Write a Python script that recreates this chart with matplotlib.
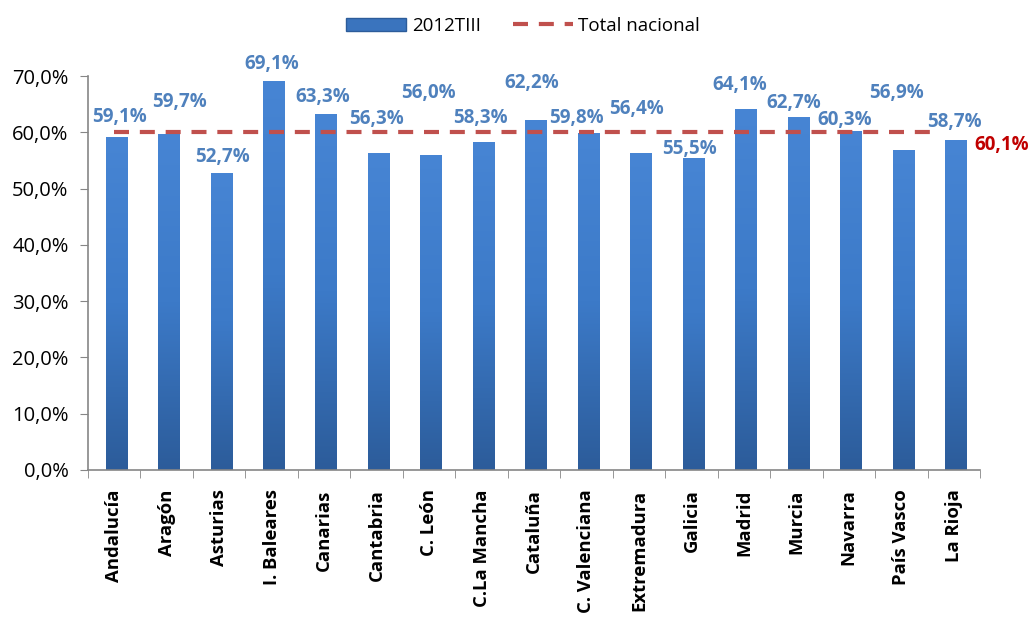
import numpy as np
import matplotlib.pyplot as plt
from matplotlib.lines import Line2D
from matplotlib.patches import Patch
from matplotlib.colors import LinearSegmentedColormap

plt.rcParams['font.family'] = ['Open Sans', 'DejaVu Sans']

regiones = ['Andalucía', 'Aragón', 'Asturias', 'I. Baleares', 'Canarias', 'Cantabria',
            'C. León', 'C.La Mancha', 'Cataluña', 'C. Valenciana', 'Extremadura',
            'Galicia', 'Madrid', 'Murcia', 'Navarra', 'País Vasco', 'La Rioja']
tasa = [59.1, 59.7, 52.7, 69.1, 63.3, 56.3, 56.0, 58.3, 62.2, 59.8, 56.4,
        55.5, 64.1, 62.7, 60.3, 56.9, 58.7]
total_nacional = 60.1

# where each value label sits, in pixels from the top of its bar
lab_dy = [20, 32, 16, 17, 17, 34, 62, 24, 37, 15, 44, 9, 24, 14, 11, 57, 18]
lab_dx = [5, 13, 3, 0, -1, 0, -1, -1, -2, -10, -2, -2, -4, -3, -4, -5, 1]

fig = plt.figure(figsize=(10.32, 6.17), dpi=100)
ax = fig.add_axes([0.0853, 0.2383, 0.8643, 0.6385])

x = np.arange(len(regiones))
bars = ax.bar(x + 0.04, tasa, width=0.41, color='#3A74BE', zorder=2)

# vertical gradient inside every bar
grad = np.linspace(0, 1, 256).reshape(-1, 1)
cmap = LinearSegmentedColormap.from_list('g', ['#2C5C9A', '#3C7AC8', '#4785D4'])
for b in bars:
    im = ax.imshow(grad, extent=[b.get_x(), b.get_x() + b.get_width(), 0, b.get_height()],
                   origin='lower', aspect='auto', cmap=cmap, zorder=2)
    im.set_clip_path(b)

ax.plot([0, len(regiones) - 1.3], [total_nacional] * 2, color='#C0504D', lw=3,
        dashes=(3.6, 2.6), zorder=3)

for i, v in enumerate(tasa):
    ax.annotate(f'{v:.1f}%'.replace('.', ','), (i, v), xytext=(lab_dx[i], lab_dy[i]),
                textcoords='offset pixels', ha='center', va='center',
                fontsize=13.5, fontweight='bold', color='#4F81BD', zorder=4)

ax.annotate(f'{total_nacional:.1f}%'.replace('.', ','), (len(regiones) - 1, total_nacional),
            xytext=(21, -13), textcoords='offset pixels', ha='left', va='center',
            fontsize=13.5, fontweight='bold', color='#C00000', annotation_clip=False)

ax.set_xlim(-0.5, len(regiones) - 0.5)
ax.set_ylim(0, 70)
yt = np.arange(0, 71, 10)
ax.set_yticks(yt)
ax.set_yticklabels([f'{t:.1f}%'.replace('.', ',') for t in yt], fontsize=14.5)
ax.set_xticks(x)
ax.set_xticklabels(regiones, rotation=90, fontsize=13.3, fontweight='bold')
ax.set_xticks(np.arange(-0.5, len(regiones)), minor=True)
ax.tick_params(axis='x', which='major', length=0, pad=14)
ax.tick_params(axis='x', which='minor', length=6, color='#868686')
ax.tick_params(axis='y', length=6, color='#868686', pad=8)

for s in ['top', 'right']:
    ax.spines[s].set_visible(False)
for s in ['left', 'bottom']:
    ax.spines[s].set_color('#868686')
    ax.spines[s].set_linewidth(1.2)

handles = [Patch(facecolor='#3A74BE', edgecolor='#2C5C9A', label='2012TIII'),
           Line2D([0], [0], color='#C0504D', lw=3, dashes=(3.6, 2.6), label='Total nacional')]
fig.legend(handles=handles, loc='upper center', bbox_to_anchor=(0.507, 1.0), ncol=2,
           frameon=False, fontsize=13.5, handlelength=3.2, columnspacing=1.7, handletextpad=0.3)

fig.savefig('out.png', dpi=100)
